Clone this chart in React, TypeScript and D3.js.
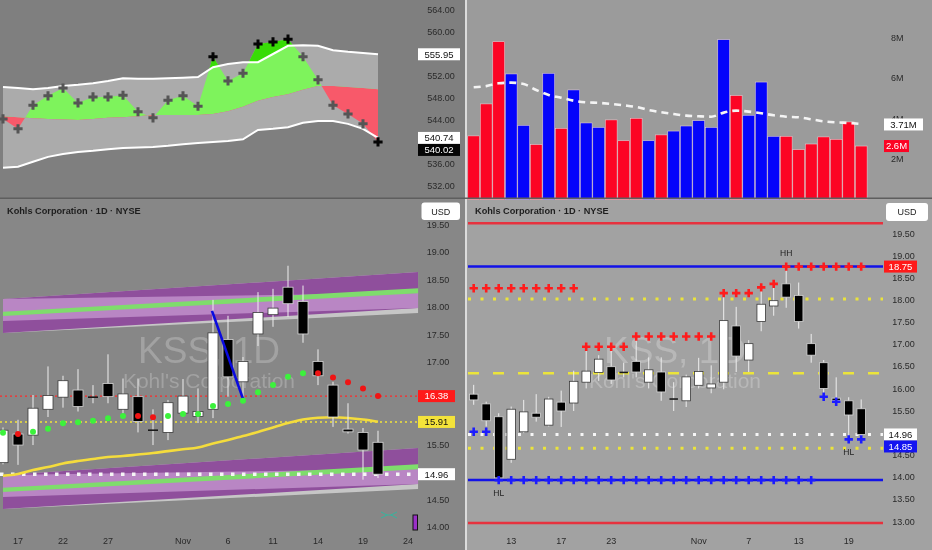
import * as d3 from "d3";

const FONT = "'Liberation Sans', Arial, Helvetica, sans-serif";

// ---------- top-left: index with envelope (last 26 sessions) ----------
const spPrice = [544.2, 542.4, 546.7, 548.4, 549.8, 547.1, 548.2, 548.2, 548.5, 545.5, 544.4, 547.6, 548.4, 546.5, 555.5, 551.1, 552.5, 557.8, 558.2, 558.7, 555.5, 551.3, 546.7, 545.1, 543.3, 540.02];
const spUpper = [550.0, 549.8, 549.6, 549.8, 550.2, 550.4, 550.7, 551.1, 551.6, 551.5, 551.5, 551.6, 551.7, 551.8, 553.6, 554.2, 554.5, 554.5, 556.0, 557.5, 557.6, 557.5, 556.7, 556.4, 556.2, 555.95];
const spMid = [544.7, 544.5, 544.3, 544.2, 544.1, 544.0, 544.2, 544.4, 544.5, 544.7, 544.9, 544.9, 544.9, 544.9, 545.1, 545.6, 546.4, 547.5, 548.2, 548.7, 549.5, 550.2, 550.2, 550.0, 549.8, 549.6];
const spLower = [535.3, 535.5, 536.4, 537.3, 537.8, 538.2, 538.4, 538.7, 538.9, 539.0, 539.1, 539.3, 539.6, 539.8, 540.0, 540.2, 540.5, 542.2, 542.4, 542.7, 543.5, 543.8, 543.8, 543.3, 542.4, 540.74];
const spTicks = [532, 536, 540, 544, 548, 552, 556, 560, 564];

// ---------- KSS daily candles (32 sessions) ----------
const opens = [15.87, 15.65, 15.36, 14.4, 15.02, 15.44, 15.17, 15.69, 15.67, 16.14, 16.36, 16.49, 16.36, 16.61, 16.14, 16.37, 15.76, 15.72, 16.07, 16.01, 16.14, 17.41, 16.64, 17.51, 17.86, 18.36, 18.1, 17.01, 16.58, 15.78, 15.72, 15.54];
const highs = [16.08, 15.7, 15.44, 15.59, 15.74, 15.87, 15.81, 15.95, 16.4, 16.92, 16.75, 16.87, 16.58, 17.14, 16.7, 16.7, 16.14, 16.31, 16.69, 16.52, 18.13, 17.84, 17.09, 18.27, 18.33, 18.75, 18.39, 17.23, 16.64, 16.25, 15.8, 15.75];
const lows = [15.63, 15.14, 13.93, 14.32, 14.99, 15.25, 15.14, 15.13, 15.49, 16.0, 16.17, 16.1, 16.25, 16.25, 16.0, 15.72, 15.49, 15.58, 16.0, 15.89, 15.98, 16.37, 16.37, 17.29, 17.64, 17.82, 17.35, 16.58, 15.82, 15.7, 14.86, 14.89];
const closes = [15.74, 15.27, 13.98, 15.53, 15.47, 15.35, 15.76, 15.49, 16.16, 16.39, 16.66, 16.19, 16.34, 16.37, 16.42, 15.92, 15.76, 16.26, 16.38, 16.1, 17.53, 16.73, 17.01, 17.9, 17.98, 18.06, 17.51, 16.75, 16.0, 15.73, 15.4, 14.96];

// volume in millions and its moving average
const volumes = [3.14, 4.72, 7.79, 6.2, 3.66, 2.71, 6.23, 3.51, 5.41, 3.78, 3.56, 3.93, 2.9, 4.01, 2.9, 3.19, 3.38, 3.63, 3.89, 3.56, 7.89, 5.13, 4.16, 5.8, 3.12, 3.12, 2.46, 2.74, 3.09, 2.97, 3.83, 2.64];
const volMA = [5.54, 5.6, 5.74, 5.77, 5.7, 5.41, 5.16, 5.03, 4.88, 4.8, 4.77, 4.72, 4.65, 4.57, 4.42, 4.31, 4.22, 4.14, 4.11, 4.09, 4.29, 4.39, 4.34, 4.26, 4.16, 4.09, 4.06, 3.96, 3.86, 3.81, 3.78, 3.73];
const volTicks = [2, 4, 6, 8];

// bottom-left overlays (sessions 6..31)
const sarVals = [15.715, 15.69, 15.733, 15.787, 15.885, 15.904, 15.93, 15.976, 16.018, 16.018, 15.995, 16.018, 16.055, 16.055, 16.2, 16.236, 16.296, 16.449, 16.58, 16.733, 16.795, 16.795, 16.72, 16.63, 16.52, 16.38];
const sarBull = [1, 0, 1, 1, 1, 1, 1, 1, 1, 0, 0, 1, 1, 1, 1, 1, 1, 1, 1, 1, 1, 0, 0, 0, 0, 0];
const maVals = [14.933, 14.964, 15.036, 15.09, 15.155, 15.2, 15.236, 15.273, 15.29, 15.318, 15.345, 15.38, 15.413, 15.445, 15.52, 15.58, 15.655, 15.727, 15.81, 15.89, 15.955, 15.987, 15.995, 15.982, 15.955, 15.915];
const blLevels = [16.38, 15.91, 14.96];
const blTicks = [14, 14.5, 15, 15.5, 16, 16.5, 17, 17.5, 18, 18.5, 19, 19.5];
const blDates = ["17", "22", "27", "Nov", "6", "11", "14", "19", "24"];
const blDateIdx = [7, 10, 13, 18, 21, 24, 27, 30, 33];
// regression channels: [value at start, value at end]
const chanSpan = [6, 33.67];
const chanOuterTop = [18.145, 18.636];
const chanOuterBot = [17.527, 17.891];
const chanDarkBot = [17.527, 17.982];
const chanLightTop = [18.145, 18.255];
const chanLightBot = [17.745, 17.982];
const chanGreenTop = [17.915, 18.34];
const chanGreenBot = [17.836, 18.249];
const chanShift = [0, -3.2];
const trendA = [20, 17.93];
const trendB = [22, 16.33];

// bottom-right levels / pivots
const brLevels = [19.73, 18.75, 18.02, 16.34, 14.96, 14.65, 13.93, 12.96];
const resist = [18.26, 18.26, 18.26, 18.26, 18.26, 18.26, 18.26, 18.26, 18.26, 16.94, 16.94, 16.94, 16.94, 17.17, 17.17, 17.17, 17.17, 17.17, 17.17, 17.17, 18.15, 18.15, 18.15, 18.28, 18.36, 18.75, 18.75, 18.75, 18.75, 18.75, 18.75, 18.75];
const support = [15.02, 15.02, 13.93, 13.93, 13.93, 13.93, 13.93, 13.93, 13.93, 13.93, 13.93, 13.93, 13.93, 13.93, 13.93, 13.93, 13.93, 13.93, 13.93, 13.93, 13.93, 13.93, 13.93, 13.93, 13.93, 13.93, 13.93, 13.93, 15.81, 15.7, 14.85, 14.85];
const brTicks = [13, 13.5, 14, 14.5, 15, 15.5, 16, 16.5, 17, 17.5, 18, 18.5, 19, 19.5];
const brDates = ["13", "17", "23", "Nov", "7", "13", "19"];
const brDateIdx = [3, 7, 11, 18, 22, 26, 30];
const pivotText = ["HL", "HH", "HL"];
const pivotIdx = [2, 25, 30];
const pivotVal = [13.93, 18.75, 14.85];

const f2 = d3.format(".2f");

// scales
const xTL = d3.scaleLinear().domain([0, 25]).range([3, 378]);
const yTL = d3.scaleLinear().domain([532, 564]).range([186, 10]);
const xR = d3.scaleLinear().domain([0, 31]).range([473.7, 861.2]);
const yV = d3.scaleLinear().domain([0, 8]).range([199.5, 37.5]);
const xL = d3.scaleLinear().domain([6, 31]).range([3, 378]);
const yBL = d3.scaleLinear().domain([14, 19.5]).range([527, 224.5]);
const yBR = d3.scaleLinear().domain([13, 19.5]).range([521.3, 233.35]);

type TagDef = { v: number; text: string; bg: string; fg: string };

function stackTags(tags: TagDef[], y: (v: number) => number) {
  const sorted = tags.map((t) => ({ ...t, cy: y(t.v) })).sort((a, b) => a.cy - b.cy);
  for (let k = 1; k < sorted.length; k++) {
    if (sorted[k].cy < sorted[k - 1].cy + 12) sorted[k].cy = sorted[k - 1].cy + 12;
  }
  return sorted;
}

// axis ticks that a price tag would hide completely are left out
function visibleTicks(ticks: number[], tags: TagDef[], y: (v: number) => number) {
  const placed = stackTags(tags, y);
  return ticks.filter((t) => placed.every((p) => Math.abs(p.cy - y(t)) > 7));
}

function Tags({ tags, y, x, w }: { tags: TagDef[]; y: (v: number) => number; x: number; w: number }) {
  return (
    <g>
      {stackTags(tags, y).map((t, k) => (
        <g key={k}>
          <rect x={x} y={t.cy - 6} width={w} height={12} fill={t.bg} />
          <text x={x + w / 2} y={t.cy + 3.3} fontSize={9.5} textAnchor="middle" fill={t.fg}>
            {t.text}
          </text>
        </g>
      ))}
    </g>
  );
}

function Cross({ x, y, r, color, sw }: { x: number; y: number; r: number; color: string; sw: number }) {
  return <path d={`M${x - r},${y}H${x + r}M${x},${y - r}V${y + r}`} stroke={color} strokeWidth={sw} />;
}

function Candles({ idx, x, y, w }: { idx: number[]; x: (i: number) => number; y: (v: number) => number; w: number }) {
  return (
    <g>
      {idx.map((i) => {
        const o = opens[i];
        const c = closes[i];
        const cx = x(i);
        const top = y(Math.max(o, c));
        const bot = y(Math.min(o, c));
        const doji = Math.abs(c - o) < 0.03;
        const up = c >= o;
        return (
          <g key={i}>
            <line x1={cx} x2={cx} y1={y(highs[i])} y2={y(lows[i])} stroke="#eeeeee" strokeWidth={1} />
            {doji ? (
              <line x1={cx - w / 2} x2={cx + w / 2} y1={top} y2={top} stroke="#1a1a1a" strokeWidth={1.6} />
            ) : (
              <rect
                x={cx - w / 2}
                y={top}
                width={w}
                height={Math.max(1, bot - top)}
                fill={up ? "#ffffff" : "#000000"}
                stroke={up ? "#3a3a3a" : "#d6d6d6"}
                strokeWidth={0.8}
              />
            )}
          </g>
        );
      })}
    </g>
  );
}

export default function App() {
  const idx26 = d3.range(26);

  // ---- top-left paths
  const between = (a: number[], b: number[]) =>
    d3
      .area<number>()
      .x((i) => xTL(i))
      .y0((i) => yTL(a[i]))
      .y1((i) => yTL(b[i]))(idx26) ?? "";
  const above = (a: number[]) =>
    d3
      .area<number>()
      .x((i) => xTL(i))
      .y0(0)
      .y1((i) => yTL(a[i]))(idx26) ?? "";
  const below = (a: number[]) =>
    d3
      .area<number>()
      .x((i) => xTL(i))
      .y0((i) => yTL(a[i]))
      .y1(198)(idx26) ?? "";
  const tlLine = (a: number[]) =>
    d3
      .line<number>()
      .x((i) => xTL(i))
      .y((i) => yTL(a[i]))(idx26) ?? "";

  // ---- volume MA
  const idx32 = d3.range(32);
  const maPath =
    d3
      .line<number>()
      .x((i) => xR(i))
      .y((i) => yV(volMA[i]))
      .curve(d3.curveMonotoneX)(idx32) ?? "";

  // ---- bottom-left
  const idxL = d3.range(6, 32);
  const maLine =
    d3
      .line<number>()
      .x((i) => xL(i))
      .y((i) => yBL(maVals[i - 6]))
      .curve(d3.curveMonotoneX)(idxL) ?? "";
  const chanPoly = (top: number[], bot: number[], shift: number) => {
    const [a, b] = chanSpan;
    return `M${xL(a)},${yBL(top[0] + shift)}L${xL(b)},${yBL(top[1] + shift)}L${xL(b)},${yBL(bot[1] + shift)}L${xL(a)},${yBL(
      bot[0] + shift
    )}Z`;
  };
  const blRight = xL(chanSpan[1]);
  const brLeft = 468;
  const brRight = 883;

  const brStyles = [
    { s: "#e6323e", w: 2.5, d: undefined as string | undefined },
    { s: "#1212e8", w: 2.5, d: undefined },
    { s: "#ebe43a", w: 3, d: "3,9.5" },
    { s: "#ebe43a", w: 2.5, d: "11,14" },
    { s: "#f6f6f6", w: 3, d: "3,9.5" },
    { s: "#ebe43a", w: 3, d: "3,9.5" },
    { s: "#1212e8", w: 2.5, d: undefined },
    { s: "#e6323e", w: 2.5, d: undefined },
  ];
  const blStyles = [
    { s: "#ff2a2a", w: 1.3, d: "2,3" },
    { s: "#f2e43a", w: 1.5, d: "2,3" },
    { s: "#f6f6f6", w: 3.5, d: "3.5,7.5" },
  ];

  const tlTags: TagDef[] = [
    { v: spUpper[25], text: f2(spUpper[25]), bg: "#ffffff", fg: "#111" },
    { v: spLower[25], text: f2(spLower[25]), bg: "#ffffff", fg: "#111" },
    { v: spPrice[25], text: f2(spPrice[25]), bg: "#050505", fg: "#fff" },
  ];
  const blTags: TagDef[] = [
    { v: blLevels[0], text: f2(blLevels[0]), bg: "#ff1a1a", fg: "#fff" },
    { v: blLevels[1], text: f2(maVals[25]), bg: "#f4e33a", fg: "#111" },
    { v: blLevels[2], text: f2(blLevels[2]), bg: "#ffffff", fg: "#111" },
  ];
  const brTags: TagDef[] = [
    { v: brLevels[1], text: f2(brLevels[1]), bg: "#ff1a1a", fg: "#fff" },
    { v: brLevels[4], text: f2(brLevels[4]), bg: "#ffffff", fg: "#111" },
    { v: support[31], text: f2(support[31]), bg: "#1414f0", fg: "#fff" },
  ];

  return (
    <div style={{ position: "fixed", left: 0, top: 0 }}>
      <svg width={932} height={550} style={{ display: "block" }} fontFamily={FONT}>
        <defs>
          <clipPath id="aboveMid">
            <path d={above(spMid)} />
          </clipPath>
          <clipPath id="belowMid">
            <path d={below(spMid)} />
          </clipPath>
          <clipPath id="aboveUp">
            <path d={above(spUpper)} />
          </clipPath>
          <clipPath id="blClip">
            <rect x={0} y={199} width={465} height={351} />
          </clipPath>
        </defs>

        {/* panel backgrounds */}
        <rect x={0} y={0} width={466} height={198} fill="#7f7f7f" />
        <rect x={466} y={0} width={466} height={198} fill="#9b9b9b" />
        <rect x={0} y={198} width={466} height={352} fill="#878787" />
        <rect x={466} y={198} width={466} height={352} fill="#a2a2a2" />

        {/* ===== top-left ===== */}
        <g>
          <path d={between(spUpper, spLower)} fill="#ababab" />
          <path d={between(spPrice, spMid)} fill="#7ef35c" clipPath="url(#aboveMid)" />
          <path d={between(spPrice, spMid)} fill="#f8596a" clipPath="url(#belowMid)" />
          <path d={between(spPrice, spUpper)} fill="#38dc06" clipPath="url(#aboveUp)" />
          <path d={tlLine(spUpper)} fill="none" stroke="#ffffff" strokeWidth={2} />
          <path d={tlLine(spLower)} fill="none" stroke="#ffffff" strokeWidth={2} />
          {idx26.map((i) => {
            const ext = spPrice[i] > spUpper[i] || spPrice[i] <= spLower[i];
            return (
              <Cross key={i} x={xTL(i)} y={yTL(spPrice[i])} r={4.6} sw={3} color={ext ? "#050505" : "#555555"} />
            );
          })}
          {visibleTicks(spTicks, tlTags, yTL).map((t) => (
            <text key={t} x={441} y={yTL(t) + 3.2} fontSize={9} textAnchor="middle" fill="#2a2a2a">
              {f2(t)}
            </text>
          ))}
          <Tags x={418} w={42} y={yTL} tags={tlTags} />
        </g>

        {/* ===== top-right volume ===== */}
        <g>
          {idx32.map((i) => (
            <rect
              key={i}
              x={xR(i) - 5.9}
              y={yV(volumes[i])}
              width={11.8}
              height={yV(0) - yV(volumes[i])}
              fill={closes[i] >= opens[i] ? "#0404fb" : "#fc0424"}
              stroke="#f0d8dc"
              strokeWidth={0.5}
            />
          ))}
          <path d={maPath} fill="none" stroke="#f4f4f4" strokeWidth={2.6} strokeDasharray="7,5" />
          {volTicks.map((t) => (
            <text key={t} x={891} y={yV(t) + 3.2} fontSize={9} fill="#2a2a2a">
              {`${t}M`}
            </text>
          ))}
          <rect x={884} y={yV(volMA[31]) - 5.5} width={39} height={12} fill="#ffffff" />
          <text x={903.5} y={yV(volMA[31]) + 3.8} fontSize={9.5} textAnchor="middle" fill="#111">
            3.71M
          </text>
          <rect x={884} y={yV(volumes[31]) - 6} width={25} height={12} fill="#fc0424" />
          <text x={896.5} y={yV(volumes[31]) + 3.3} fontSize={9.5} textAnchor="middle" fill="#fff">
            2.6M
          </text>
        </g>

        {/* ===== bottom-left ===== */}
        <g clipPath="url(#blClip)">
          <text x={7} y={214} fontSize={9.2} fontWeight="bold" fill="#1e1e1e">
            Kohls Corporation · 1D · NYSE
          </text>
          <text x={209} y={363} fontSize={37} textAnchor="middle" fill="#a2a2a2">
            KSS, 1D
          </text>
          <text x={209} y={388} fontSize={21} textAnchor="middle" fill="#a2a2a2">
            Kohl's Corporation
          </text>

          {chanShift.map((s, k) => (
            <g key={k}>
              <path d={chanPoly(chanOuterTop, chanOuterBot, s)} fill="#c6c6c6" />
              <path d={chanPoly(chanOuterTop, chanDarkBot, s)} fill="#8f4f9c" />
              <path d={chanPoly(chanLightTop, chanLightBot, s)} fill="#b986c4" />
              <path d={chanPoly(chanGreenTop, chanGreenBot, s)} fill="#7fdc6c" />
            </g>
          ))}

          {blLevels.map((v, k) => (
            <line
              key={k}
              x1={0}
              x2={blRight}
              y1={yBL(v)}
              y2={yBL(v)}
              stroke={blStyles[k].s}
              strokeWidth={blStyles[k].w}
              strokeDasharray={blStyles[k].d}
            />
          ))}
          <path d={maLine} fill="none" stroke="#f4dc3c" strokeWidth={2.6} />

          <Candles idx={idxL} x={xL} y={yBL} w={10} />
          <line
            x1={xL(trendA[0]) - 1}
            y1={yBL(trendA[1])}
            x2={xL(trendB[0])}
            y2={yBL(trendB[1])}
            stroke="#0a0ae0"
            strokeWidth={2.6}
          />
          {idxL.map((i) => (
            <circle
              key={i}
              cx={xL(i)}
              cy={yBL(sarVals[i - 6])}
              r={3}
              fill={sarBull[i - 6] ? "#3cf23c" : "#f01414"}
            />
          ))}

          {/* small icons at bottom */}
          <path d="M381,512L387,515L381,518M397,512L391,515L397,518M386,515H392" fill="none" stroke="#35b59e" strokeWidth={1} />
          <rect x={413} y={515} width={4.5} height={15} fill="#9a30c8" stroke="#111" strokeWidth={1} />

          {visibleTicks(blTicks, blTags, yBL).map((t) => (
            <text key={t} x={438} y={yBL(t) + 3.2} fontSize={9} textAnchor="middle" fill="#2a2a2a">
              {f2(t)}
            </text>
          ))}
          {blDates.map((d, k) => (
            <text key={k} x={xL(blDateIdx[k])} y={543.5} fontSize={9} textAnchor="middle" fill="#2a2a2a">
              {d}
            </text>
          ))}
          <Tags x={418} w={37} y={yBL} tags={blTags} />
          <rect x={421.5} y={202.5} width={38.5} height={17.5} rx={3} fill="#ffffff" />
          <text x={440.7} y={214.5} fontSize={9} textAnchor="middle" fill="#222">
            USD
          </text>
        </g>

        {/* ===== bottom-right ===== */}
        <g>
          <text x={475} y={214} fontSize={9.2} fontWeight="bold" fill="#1e1e1e">
            Kohls Corporation · 1D · NYSE
          </text>
          <text x={675} y={363} fontSize={37} textAnchor="middle" fill="#b8b8b8">
            KSS, 1D
          </text>
          <text x={675} y={388} fontSize={21} textAnchor="middle" fill="#b8b8b8">
            Kohl's Corporation
          </text>

          {brLevels.map((v, k) => (
            <line
              key={k}
              x1={brLeft}
              x2={brRight}
              y1={yBR(v)}
              y2={yBR(v)}
              stroke={brStyles[k].s}
              strokeWidth={brStyles[k].w}
              strokeDasharray={brStyles[k].d}
            />
          ))}

          <Candles idx={idx32} x={xR} y={yBR} w={8.5} />

          {idx32.map((i) => (
            <g key={i}>
              <Cross x={xR(i)} y={yBR(resist[i])} r={4.2} sw={2.6} color="#ff1c1c" />
              <Cross x={xR(i)} y={yBR(support[i])} r={4.2} sw={2.6} color="#1c1cff" />
            </g>
          ))}
          {pivotText.map((t, k) => (
            <text
              key={k}
              x={xR(pivotIdx[k])}
              y={t === "HH" ? yBR(pivotVal[k]) - 11 : yBR(pivotVal[k]) + 16}
              fontSize={8.5}
              textAnchor="middle"
              fill="#222"
            >
              {t}
            </text>
          ))}

          {visibleTicks(brTicks, brTags, yBR).map((t) => (
            <text key={t} x={903.5} y={yBR(t) + 3.2} fontSize={9} textAnchor="middle" fill="#2a2a2a">
              {f2(t)}
            </text>
          ))}
          {brDates.map((d, k) => (
            <text key={k} x={xR(brDateIdx[k])} y={543.5} fontSize={9} textAnchor="middle" fill="#2a2a2a">
              {d}
            </text>
          ))}
          <Tags x={884} w={33} y={yBR} tags={brTags} />
          <rect x={886} y={203} width={42} height={18} rx={3} fill="#ffffff" />
          <text x={907} y={215.2} fontSize={9} textAnchor="middle" fill="#222">
            USD
          </text>
        </g>

        {/* dividers */}
        <rect x={465} y={0} width={2} height={550} fill="#dcdcdc" />
        <rect x={0} y={197.5} width={932} height={1.5} fill="#5e5e5e" />
      </svg>
    </div>
  );
}
